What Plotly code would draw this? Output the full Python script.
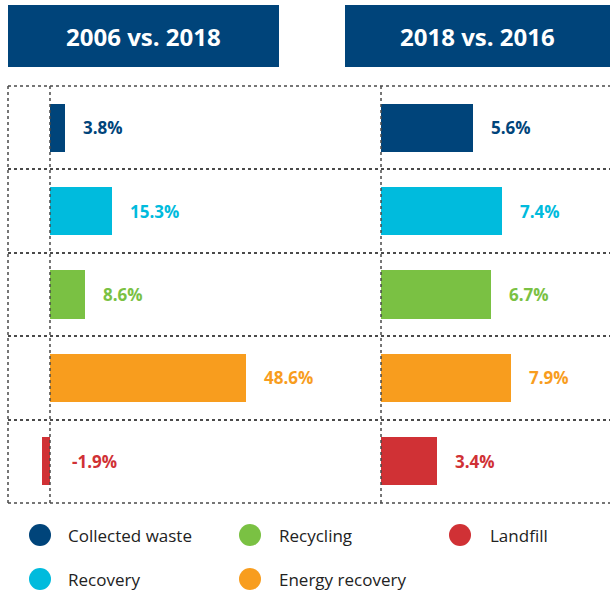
import plotly.graph_objects as go

W, H = 610, 590

categories = ["Collected waste", "Recovery", "Recycling", "Energy recovery", "Landfill"]
change_2006_2018 = [3.8, 15.3, 8.6, 48.6, -1.9]
change_2018_2016 = [5.6, 7.4, 6.7, 7.9, 3.4]
panel_titles = ["2006 vs. 2018", "2018 vs. 2016"]
colors = ["#00447A", "#00BBDD", "#7AC143", "#F89D1E", "#D03135"]
legend_order = ["Collected waste", "Recycling", "Landfill", "Recovery", "Energy recovery"]


def px(x):
    return x / W


def py(y):
    return 1 - y / H


FONT = "Open Sans"
GRID = "#4a4a4a"

fig = go.Figure()
fig.add_trace(go.Bar(x=change_2006_2018, y=categories, orientation="h",
                     marker=dict(color=colors, line=dict(width=0)), width=0.58,
                     xaxis="x", yaxis="y", hoverinfo="skip", showlegend=False))
fig.add_trace(go.Bar(x=change_2018_2016, y=categories, orientation="h",
                     marker=dict(color=colors, line=dict(width=0)), width=0.58,
                     xaxis="x2", yaxis="y", hoverinfo="skip", showlegend=False))

annotations = []
for xref, vals in (("x", change_2006_2018), ("x2", change_2018_2016)):
    for cat, v, c in zip(categories, vals, colors):
        annotations.append(dict(
            x=max(v, 0), y=cat, xref=xref, yref="y", text=f"<b>{v:.1f}%</b>",
            showarrow=False, xanchor="left", yanchor="middle",
            xshift=(20 if v < 0 else 16),
            font=dict(family=FONT, size=17, color=c)))

shapes = []
# header boxes
boxes = [(8, 279), (345, 610)]
for (x0, x1), t in zip(boxes, panel_titles):
    shapes.append(dict(type="rect", xref="paper", yref="paper",
                       x0=px(x0), x1=px(x1), y0=py(67), y1=py(5),
                       fillcolor="#00447A", line=dict(width=0), layer="below"))
    annotations.append(dict(x=px((x0 + x1) / 2), y=py(36), xref="paper", yref="paper",
                            text=f"<b>{t}</b>", showarrow=False,
                            xanchor="center", yanchor="middle",
                            font=dict(family=FONT, size=24, color="white")))

dot = dict(color=GRID, width=1.5, dash="dot")
# dotted vertical lines: left border and zero lines
shapes.append(dict(type="line", xref="x domain", yref="y domain", x0=0, x1=0, y0=0, y1=1,
                   line=dot))
for xr in ("x", "x2"):
    shapes.append(dict(type="line", xref=xr, yref="y domain", x0=0, x1=0, y0=0, y1=1,
                       line=dot))
# top and bottom dotted borders
for yy in (0, 1):
    shapes.append(dict(type="line", xref="paper", yref="y domain", x0=px(8), x1=1,
                       y0=yy, y1=yy, line=dot))

# legend
leg_cols = [(40, 66), (250, 277), (460, 488)]
leg_rows = [535, 579]
for i, name in enumerate(legend_order):
    r, cidx = divmod(i, 3)
    cx, tx = leg_cols[cidx]
    cy = leg_rows[r]
    col = colors[categories.index(name)]
    shapes.append(dict(type="circle", xref="paper", yref="paper",
                       x0=px(cx - 11), x1=px(cx + 11), y0=py(cy + 11), y1=py(cy - 11),
                       fillcolor=col, line=dict(width=0)))
    annotations.append(dict(x=px(tx), y=py(cy), xref="paper", yref="paper", text=name,
                            showarrow=False, xanchor="left", yanchor="middle",
                            font=dict(family=FONT, size=17, color="#222222")))

fig.update_layout(
    width=W, height=H, margin=dict(l=0, r=0, t=0, b=0),
    paper_bgcolor="white", plot_bgcolor="white",
    xaxis=dict(domain=[px(8), px(345)], range=[-10.42, 73.2], showgrid=False,
               zeroline=False, showticklabels=False, ticks="", fixedrange=True),
    xaxis2=dict(domain=[px(345), 1], range=[-2.195, 13.96], showgrid=False,
                zeroline=False, showticklabels=False, ticks="", anchor="y", fixedrange=True),
    yaxis=dict(domain=[py(503), py(86)], type="category", categoryorder="array",
               categoryarray=categories, autorange=False, range=[4.5, -0.5],
               tickson="boundaries", showgrid=True, griddash="dot",
               gridcolor=GRID, gridwidth=1.5, showticklabels=False, ticks="",
               zeroline=False, fixedrange=True),
    shapes=shapes, annotations=annotations, bargap=0,
)

fig.write_html("out.html", config={"displayModeBar": False},
               post_script="document.body.style.margin='0';document.body.style.overflow='hidden';")
